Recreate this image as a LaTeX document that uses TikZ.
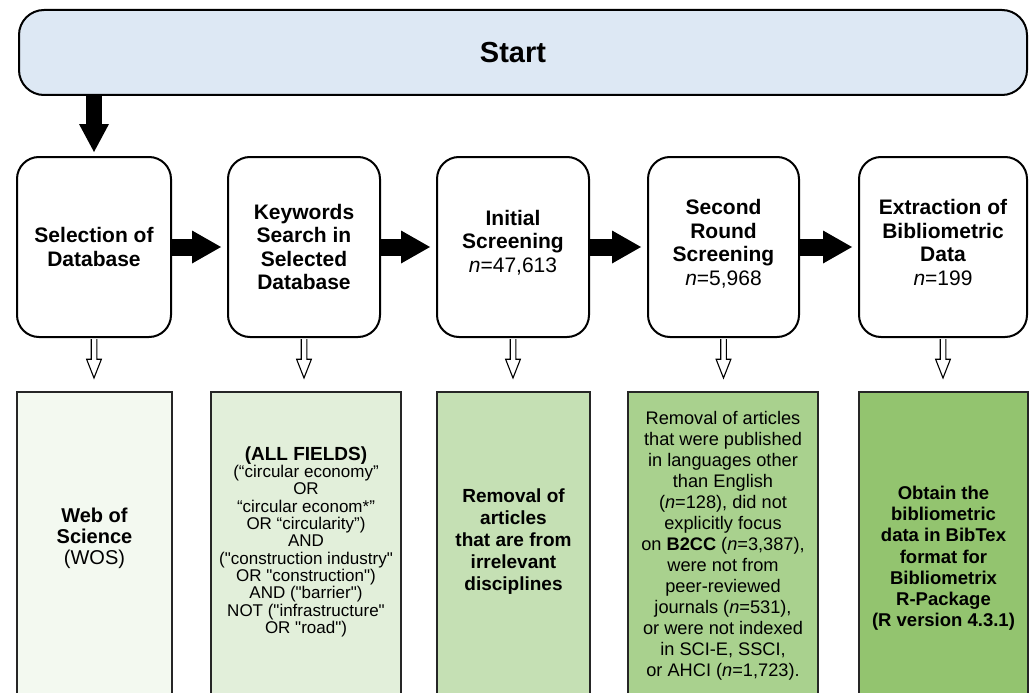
\documentclass[tikz,border=0pt]{standalone}
\usepackage{fontspec}
\setmainfont{Liberation Sans}[Ligatures=TeXOff]
\usetikzlibrary{arrows.meta,calc}
\definecolor{startblue}{RGB}{221,232,244}
\definecolor{gA}{RGB}{243,249,240}
\definecolor{gB}{RGB}{226,239,218}
\definecolor{gC}{RGB}{197,224,180}
\definecolor{gD}{RGB}{169,209,142}
\definecolor{gE}{RGB}{147,196,111}
\newcommand{\nval}[1]{{\mdseries\textit{n}=#1}}
\newcommand{\hollowdown}[1]{%
  \draw[hollowtip] ($(#1.south)+(-2.8,1.2)$) -- ++(0,20) -- ++(-4.6,0) -- ($(#1.south)+(0,40)$) -- ($(#1.south)+(7.4,21.2)$) -- ++(-4.6,0) -- ++(0,-20);}
\begin{document}
\begin{tikzpicture}[x=1pt,y=-1pt,
  stepbox/.style={draw=black, line width=2pt, rounded corners=22pt, fill=white,
    minimum width=#1, minimum height=180pt, inner sep=0pt, align=center,
    font=\bfseries\fontsize{21}{23.5}\selectfont},
  resbox/.style={draw=black!85, line width=1.5pt, minimum width=#1, minimum height=308pt,
    inner sep=0pt, align=center},
  bigarrow/.style={line width=17pt, -{Triangle[length=29pt, width=33pt, line width=0pt]}},
  hollowtip/.style={draw=black, line width=1.1pt, fill=white, line join=miter}
]
\useasboundingbox (0,0) rectangle (1029,693);
\clip (0,0) rectangle (1029,693);

\node[draw=black, line width=2pt, rounded corners=25pt, fill=startblue,
  minimum width=1008pt, minimum height=85pt, inner sep=0pt,
  font=\bfseries\fontsize{29}{32}\selectfont] (start) at (523,52.5) {Start\hspace*{20pt}};

\node[stepbox=154pt] (s1) at (94,247) {Selection of\\Database};
\node[stepbox=152pt] (s2) at (304,247) {Keywords\\Search in\\Selected\\Database};
\node[stepbox=152pt] (s3) at (513,247) {Initial\\Screening\\\nval{47,613}\\[-11.5pt]};
\node[stepbox=151pt] (s4) at (723.5,247) {Second\\Round\\Screening\\\nval{5,968}\\[-14.5pt]};
\node[stepbox=168pt] (s5) at (943,247) {Extraction of\\Bibliometric\\Data\\\nval{199}\\[-14.5pt]};

\node[resbox=155pt, fill=gA, font=\fontsize{20}{21}\selectfont] (r1) at (94.5,546)
  {\textbf{Web of}\\\textbf{Science}\\(WOS)\\[-1pt]};
\node[resbox=190pt, fill=gB, font=\fontsize{17}{17.3}\selectfont] (r2) at (306,546)
  {{\bfseries\fontsize{19}{17.3}\selectfont (ALL FIELDS)}\\(“circular economy”\\OR\\“circular econom*”\\OR “circularity”)\\AND\\("construction industry"\\OR "construction")\\AND ("barrier")\\NOT ("infrastructure"\\OR "road")\\[-5.3pt]};
\node[resbox=153pt, fill=gC, font=\bfseries\fontsize{19}{22}\selectfont] (r3) at (513.5,546)
  {Removal of\\articles\\that are from\\irrelevant\\disciplines\\[-10pt]};
\node[resbox=190pt, fill=gD, font=\fontsize{18.2}{21}\selectfont] (r4) at (723,546)
  {Removal of articles\\that were published\\in languages other\\than English\\(\textit{n}=128), did not\\explicitly focus\\on \textbf{B2CC} (\textit{n}=3,387),\\were not from\\peer-reviewed\\journals (\textit{n}=531),\\or were not indexed\\in SCI-E, SSCI,\\or AHCI (\textit{n}=1,723).};
\node[resbox=169pt, fill=gE, font=\bfseries\fontsize{18.5}{21.2}\selectfont] (r5) at (943.5,546)
  {\mbox{}\\[16.8pt]Obtain the\\bibliometric\\data in BibTex\\format for\\Bibliometrix\\R-Package\\(R version 4.3.1)};

\draw[bigarrow, line width=16pt, -{Triangle[length=28pt, width=30pt, line width=0pt]}, shorten >=4pt]
  (start.south -| s1) -- (s1.north);
\draw[bigarrow, shorten >=6pt] (s1.east) -- (s2.west);
\draw[bigarrow, shorten >=6pt] (s2.east) -- (s3.west);
\draw[bigarrow, shorten >=6pt] (s3.east) -- (s4.west);
\draw[bigarrow, shorten >=6pt] (s4.east) -- (s5.west);

\hollowdown{s1}
\hollowdown{s2}
\hollowdown{s3}
\hollowdown{s4}
\hollowdown{s5}
\end{tikzpicture}
\end{document}
